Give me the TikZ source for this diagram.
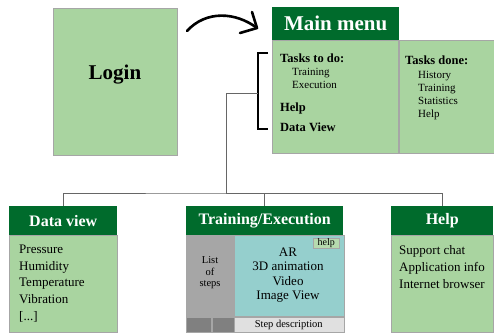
\documentclass[tikz,border=0pt]{standalone}
\usepackage{fontspec}
\setmainfont{Liberation Serif}
\usepackage{tikz}
\definecolor{leaf}{HTML}{A9D4A0}
\definecolor{forest}{HTML}{006B2C}
\definecolor{lagoon}{HTML}{95CFCD}
\definecolor{stone}{HTML}{A6A6A6}
\definecolor{slate}{HTML}{808080}
\definecolor{mist}{HTML}{E0E0E0}
\tikzset{
    box/.style={draw=gray!70, line width=0.5pt, anchor=north west, inner sep=0pt},
    body/.style={box, fill=leaf},
    head/.style={anchor=north west, inner sep=0pt, fill=forest, text=white,
        font=\bfseries\fontsize{16}{16}\selectfont},
    item/.style={anchor=base west, inner sep=0pt, font=\fontsize{#1}{#1}\selectfont},
    item/.default=13,
    task/.style={anchor=base west, inner sep=0pt, font=\bfseries\fontsize{12.5}{12.5}\selectfont},
    link/.style={draw=gray!80!black, line width=0.6pt},
    bracket/.style={line width=2pt}
}
\newcommand{\panel}[7] {
	\node[head, minimum width=#4pt, minimum height=#5pt] (#1h) at (#2,#3) {#7};
	\node[body, minimum width=#4pt, minimum height=#6pt] (#1b) at (#1h.south west) {};
}

\begin{document}
\begin{tikzpicture}[x=1pt,y=-1pt]
		\useasboundingbox (0,0) rectangle (494,333);

		% Login
		\node[body, minimum width=124pt, minimum height=147pt] (login) at (53,8) {};
		\node[font=\bfseries\fontsize{21}{21}\selectfont] (logintxt) at (115,75) {Login};

		% arrow to the menu
		\coordinate (from) at (187,31);
		\coordinate (tip) at (257,28);
		\draw[line width=2.6pt, line cap=round, line join=round]
			(from) .. controls (206,10) and (236,12) .. (tip);
		\draw[line width=2.6pt, line cap=round, line join=round]
			(252,12) -- (tip) -- (240,33);

		% Main menu
		\node[head, minimum width=127pt, minimum height=33pt,
			font=\bfseries\fontsize{21}{21}\selectfont] (mmh) at (272,7) {Main menu};
		\node[body, minimum width=126pt, minimum height=113pt] (todo) at (272,40) {};
		\node[body, minimum width=95pt, minimum height=113pt] (done) at (todo.north east) {};

		\node[task] (t1) at (280,62) {Tasks to do:};
		\node[item=11] (t2) at (292,75) {Training};
		\node[item=11] (t3) at (292,88) {Execution};
		\node[task] (t4) at (280,111) {Help};
		\node[task] (t5) at (280,131) {Data View};

		\node[task] (d1) at (405,64) {Tasks done:};
		\node[item=11] (d2) at (418,78) {History};
		\node[item=11] (d3) at (418,91) {Training};
		\node[item=11] (d4) at (418,104) {Statistics};
		\node[item=11] (d5) at (418,117) {Help};

		% bracket and tree
		\coordinate (btop) at (268,53);
		\coordinate (bbot) at (268,129);
		\coordinate (brk) at (258,93);
		\coordinate (hub) at (226,193);
		\draw[bracket] (btop) -- (258,53) -- (258,129) -- (bbot);

		% Data view
		\panel{dv}{9}{206}{108}{29}{97}{Data view}
		\node[item] (p1) at (19,253) {Pressure};
		\node[item] (p2) at (19,270) {Humidity};
		\node[item] (p3) at (19,286) {Temperature};
		\node[item] (p4) at (19,303) {Vibration};
		\node[item] (p5) at (19,320) {[...]};

		% Training/Execution
		\node[head, minimum width=157pt, minimum height=29pt] (teh) at (186,206) {Training/Execution};
		\node[box, fill=stone, minimum width=47pt, minimum height=81pt] (steps) at (teh.south west) {};
		\node[box, fill=lagoon, minimum width=110pt, minimum height=81pt] (view) at (steps.north east) {};
		\node[box, fill=slate, minimum width=25pt, minimum height=15pt] (nav1) at (steps.south west) {};
		\node[box, fill=slate, minimum width=22pt, minimum height=15pt] (nav2) at (nav1.north east) {};
		\node[box, fill=mist, minimum width=110pt, minimum height=15pt,
			font=\fontsize{10.5}{10.5}\selectfont] (desc) at (view.south west) {Step description};
		\node[box, fill=leaf!85!white, minimum width=26pt, minimum height=10pt,
			font=\fontsize{10}{10}\selectfont] (hlp) at (313,238) {help};
		\node[align=center, inner sep=0pt, font=\fontsize{10.5}{11.5}\selectfont] (stepstxt) at (210,273) {List\\of\\steps};
		\node[align=center, inner sep=0pt, font=\fontsize{13}{14.5}\selectfont] (media) at (288,275) {AR\\3D animation\\Video\\Image View};

		% Help
		\panel{hp}{391}{206}{102}{29}{97}{Help}
		\node[item] (h1) at (399,254) {Support chat};
		\node[item] (h2) at (399,271) {Application info};
		\node[item] (h3) at (399,288) {Internet browser};

		% connectors
		\draw[link] (brk) -- (226,93) -- (hub);
		\draw[link] (dvh.north) |- (hub) -| (teh.north);
		\draw[link] (hub) -| (hph.north);

	\end{tikzpicture}
\end{document}
